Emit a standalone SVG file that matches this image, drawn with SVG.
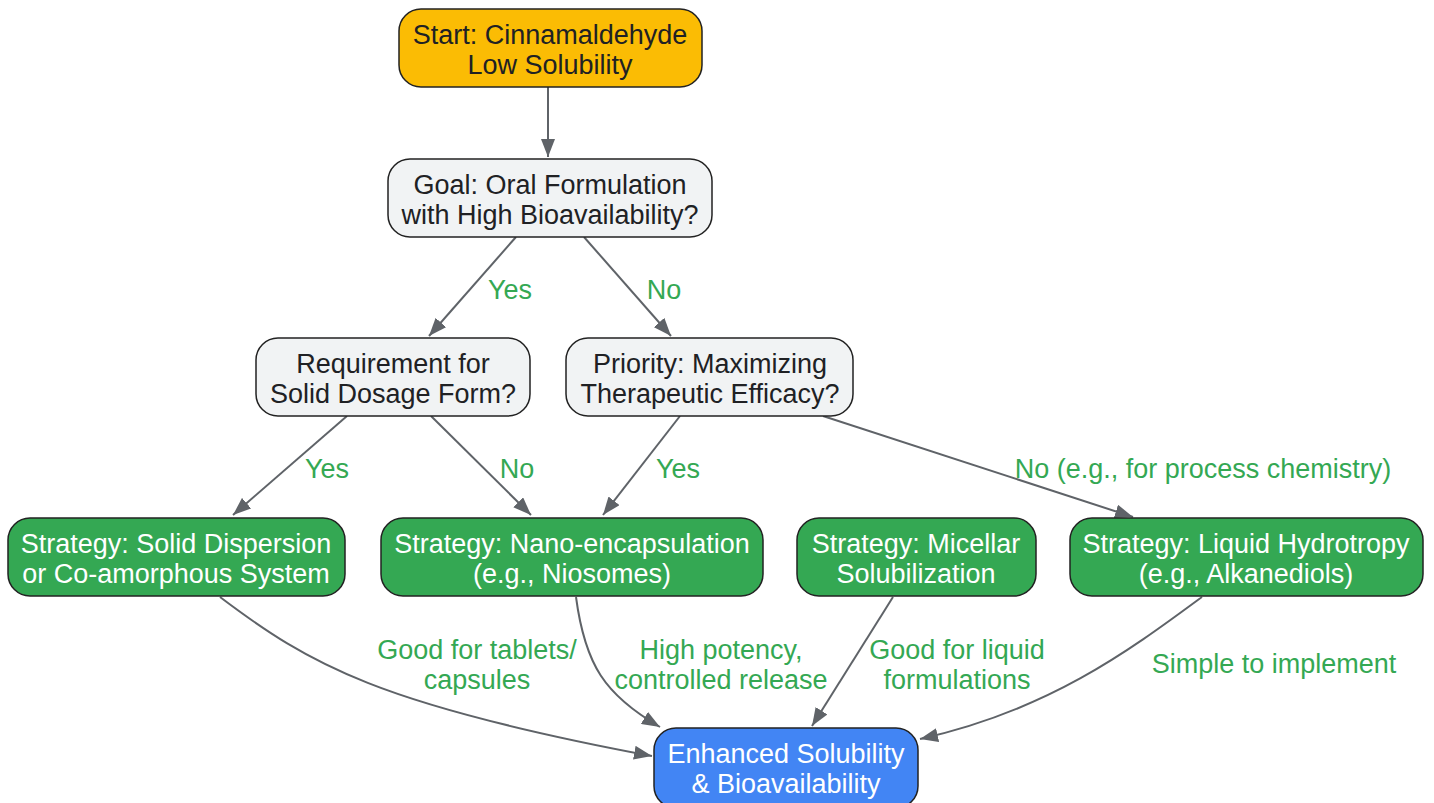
<svg xmlns="http://www.w3.org/2000/svg" width="1434" height="803" viewBox="0 0 1434 803">
<defs>
<marker id="arr" markerUnits="userSpaceOnUse" markerWidth="20" markerHeight="14" refX="18" refY="7" orient="auto">
<path d="M0,0 L18,7 L0,14 z" fill="#5F6368"/>
</marker>
<style>
.n{stroke:#222;stroke-width:1.5}
.t{font-family:"Liberation Sans",Arial,sans-serif;font-size:27px;text-anchor:middle}
.d{fill:#202124}
.w{fill:#ffffff}
.e{fill:none;stroke:#5F6368;stroke-width:2;marker-end:url(#arr)}
.l{font-family:"Liberation Sans",Arial,sans-serif;font-size:27px;text-anchor:middle;fill:#34A853}
</style>
</defs>
<rect width="1434" height="803" fill="#ffffff"/>
<g id="connectors">
<path class="e" d="M548,87 L548,157"/>
<path class="e" d="M516,237 L429,336"/>
<path class="e" d="M584,237 L671,336"/>
<path class="e" d="M347,416 L233,515"/>
<path class="e" d="M431,416 L531,515"/>
<path class="e" d="M680,416 L603,515"/>
<path class="e" d="M823,416 L1133,517"/>
<path class="e" d="M220,597 C310,665 380,705 652,756"/>
<path class="e" d="M576,597 C585,665 605,695 660,727"/>
<path class="e" d="M893,597 L812,726"/>
<path class="e" d="M1202,597 C1130,650 1050,710 920,739"/>
<text class="l" x="510" y="299">Yes</text>
<text class="l" x="664" y="299">No</text>
<text class="l" x="327" y="478">Yes</text>
<text class="l" x="517" y="478">No</text>
<text class="l" x="678" y="478">Yes</text>
<text class="l" x="1203" y="478">No (e.g., for process chemistry)</text>
<text class="l" x="477" y="659">Good for tablets/</text>
<text class="l" x="477" y="689">capsules</text>
<text class="l" x="721" y="659">High potency,</text>
<text class="l" x="721" y="689">controlled release</text>
<text class="l" x="957" y="659">Good for liquid</text>
<text class="l" x="957" y="689">formulations</text>
<text class="l" x="1274" y="673">Simple to implement</text>
</g>
<g id="start">
<rect class="n" x="399" y="9" width="303" height="78" rx="22" fill="#FBBC04"/>
<text class="t d" x="550" y="44">Start: Cinnamaldehyde</text>
<text class="t d" x="550" y="74">Low Solubility</text>
</g>
<g id="goal">
<rect class="n" x="388" y="159" width="324" height="78" rx="22" fill="#F1F3F4"/>
<text class="t d" x="550" y="194">Goal: Oral Formulation</text>
<text class="t d" x="550" y="224">with High Bioavailability?</text>
</g>
<g id="requirement">
<rect class="n" x="256" y="338" width="274" height="78" rx="22" fill="#F1F3F4"/>
<text class="t d" x="393" y="373">Requirement for</text>
<text class="t d" x="393" y="403">Solid Dosage Form?</text>
</g>
<g id="priority">
<rect class="n" x="566" y="338" width="287" height="78" rx="22" fill="#F1F3F4"/>
<text class="t d" x="710" y="373">Priority: Maximizing</text>
<text class="t d" x="710" y="403">Therapeutic Efficacy?</text>
</g>
<g id="solid">
<rect class="n" x="8" y="518" width="337" height="78" rx="22" fill="#34A853"/>
<text class="t w" x="176" y="553">Strategy: Solid Dispersion</text>
<text class="t w" x="176" y="583">or Co-amorphous System</text>
</g>
<g id="nano">
<rect class="n" x="381" y="518" width="382" height="78" rx="22" fill="#34A853"/>
<text class="t w" x="572" y="553">Strategy: Nano-encapsulation</text>
<text class="t w" x="572" y="583">(e.g., Niosomes)</text>
</g>
<g id="micellar">
<rect class="n" x="797" y="518" width="239" height="78" rx="22" fill="#34A853"/>
<text class="t w" x="916" y="553">Strategy: Micellar</text>
<text class="t w" x="916" y="583">Solubilization</text>
</g>
<g id="liquid">
<rect class="n" x="1070" y="518" width="353" height="78" rx="22" fill="#34A853"/>
<text class="t w" x="1246" y="553">Strategy: Liquid Hydrotropy</text>
<text class="t w" x="1246" y="583">(e.g., Alkanediols)</text>
</g>
<g id="enhanced">
<rect class="n" x="654" y="728" width="264" height="80" rx="22" fill="#4285F4"/>
<text class="t w" x="786" y="763">Enhanced Solubility</text>
<text class="t w" x="786" y="793">&amp; Bioavailability</text>
</g>
</svg>
